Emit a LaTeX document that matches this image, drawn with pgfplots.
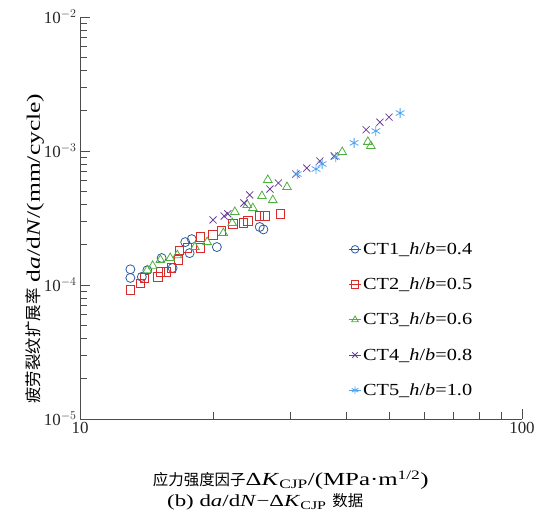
\documentclass[border=0pt]{standalone}
\usepackage{fontspec}
\setmainfont{Liberation Serif}
\newfontfamily\wide{Liberation Serif}[FakeStretch=1.2]
\newfontfamily\wider{Liberation Serif}[FakeStretch=1.35]
\newfontfamily\cjk{Noto Sans CJK SC}
\usepackage{pgfplots}
\pgfplotsset{compat=1.18}
\definecolor{c1}{HTML}{2B5C9E}
\definecolor{c2}{HTML}{D92B2B}
\definecolor{c3}{HTML}{4FAF3F}
\definecolor{c4}{HTML}{6A3D9A}
\definecolor{c5}{HTML}{4FA3EF}
\begin{document}
\begin{tikzpicture}
\path[use as bounding box] (0,0) rectangle (537bp,515bp);
\begin{axis}[
  at={(80bp,96bp)}, anchor=south west,
  scale only axis, width=442bp, height=402bp,
  xmode=log, ymode=log,
  xmin=10, xmax=100, ymin=1e-5, ymax=1e-2,
  axis x line*=bottom, axis y line*=left,
  axis line style={-, line width=0.8pt, black!70},
  tick align=inside,
  major tick length=10bp, minor tick length=7bp,
  every tick/.style={black!70, line width=0.8pt},
  xtick={10,100}, xticklabels={10,100},
  minor xtick={20,30,40,50,60,70,80,90},
  ytick={1e-5,1e-4,1e-3,1e-2},
  yticklabels={10$^{-5}$,10$^{-4}$,10$^{-3}$,10$^{-2}$},
  minor ytick={2e-5,3e-5,4e-5,5e-5,6e-5,7e-5,8e-5,9e-5,
               2e-4,3e-4,4e-4,5e-4,6e-4,7e-4,8e-4,9e-4,
               2e-3,3e-3,4e-3,5e-3,6e-3,7e-3,8e-3,9e-3},
  tick label style={font=\fontsize{17}{17}\selectfont, black!85},
  xlabel={{\cjk\fontsize{15.5}{15.5}\selectfont 应力强度因子}Δ\textit{K}\textsubscript{CJP}/(MPa·m\textsuperscript{1/2})},
  ylabel={{\cjk\fontsize{16.5}{16.5}\selectfont 疲劳裂纹扩展率} d\textit{a}/d\textit{N}/(mm/cycle)},
  xlabel style={at={(rel axis cs:0.477,-0.152)}, anchor=center, font=\wider\fontsize{18.5}{18.5}\selectfont},
  ylabel style={at={(rel axis cs:-0.102,0.424)}, anchor=center, font=\wider\fontsize{19}{19}\selectfont},
  legend style={draw=none, fill=none, at={(rel axis cs:0.600,0.449)}, anchor=north west,
    font=\wide\fontsize{17}{17}\selectfont, row sep=18bp},
  legend cell align=left,
  legend image code/.code={\path (0cm,0cm) -- (0.42cm,0cm); \draw[#1, mark size=3.8bp] plot coordinates {(0.22cm,0cm)};},
  clip=false,
]
\addplot[only marks, mark=o, c1, mark size=4.5bp, line width=0.8pt] coordinates {
(13.0,1.31e-4) (13.0,1.13e-4) (13.8,1.15e-4) (14.2,1.29e-4) (15.3,1.59e-4) (16.2,1.34e-4)
(17.3,2.09e-4) (17.9,2.20e-4) (17.7,1.73e-4) (20.4,1.92e-4) (25.5,2.71e-4) (26.0,2.60e-4)
};
\addlegendentry{CT1\_\textit{h}/\textit{b}=0.4}
\addplot[only marks, mark=square, c2, mark size=4.2bp, line width=0.8pt] coordinates {
(13.0,9.2e-5) (13.7,1.03e-4) (14.0,1.13e-4) (15.0,1.15e-4) (15.2,1.25e-4) (15.7,1.25e-4)
(16.1,1.34e-4) (16.7,1.54e-4) (16.8,1.82e-4) (17.5,1.89e-4) (18.7,2.28e-4) (18.7,1.89e-4)
(20.0,2.36e-4) (20.9,2.53e-4) (22.2,2.85e-4) (23.4,2.90e-4) (24.0,3.00e-4) (25.5,3.27e-4)
(26.2,3.27e-4) (28.4,3.39e-4)
};
\addlegendentry{CT2\_\textit{h}/\textit{b}=0.5}
\addplot[only marks, mark=triangle, c3, mark size=5bp, line width=0.8pt] coordinates {
(14.2,1.29e-4) (14.6,1.39e-4) (15.2,1.54e-4) (16.0,1.59e-4) (16.6,1.67e-4) (18.2,1.92e-4)
(19.4,2.09e-4) (21.1,2.44e-4) (22.1,2.90e-4) (22.4,3.51e-4) (23.9,3.96e-4) (24.6,3.75e-4)
(25.8,4.61e-4) (26.6,6.08e-4) (27.3,4.30e-4) (29.4,5.38e-4) (39.2,9.83e-4) (44.8,1.17e-3)
(45.5,1.09e-3)
};
\addlegendentry{CT3\_\textit{h}/\textit{b}=0.6}
\addplot[only marks, mark=x, c4, mark size=5bp, line width=0.8pt] coordinates {
(20.0,3.06e-4) (21.2,3.27e-4) (21.6,3.40e-4) (23.5,4.09e-4) (24.2,4.70e-4) (26.9,5.20e-4)
(28.1,5.77e-4) (30.8,6.73e-4) (32.6,7.46e-4) (34.9,8.42e-4) (37.6,9.18e-4) (44.4,1.44e-3)
(47.7,1.64e-3) (50.0,1.79e-3)
};
\addlegendentry{CT4\_\textit{h}/\textit{b}=0.8}
\addplot[only marks, mark=asterisk, c5, mark size=5bp, line width=0.8pt] coordinates {
(31.0,6.73e-4) (34.2,7.34e-4) (35.3,8.00e-4) (37.9,9.02e-4) (41.7,1.15e-3) (46.7,1.41e-3)
(53.0,1.92e-3)
};
\addlegendentry{CT5\_\textit{h}/\textit{b}=1.0}
\node[font=\wider\fontsize{17}{17}\selectfont, inner sep=1bp] at (rel axis cs:0.419,-0.207)
  {(b) d\textit{a}/d\textit{N}−Δ\textit{K}\textsubscript{CJP} {\cjk\fontsize{15.5}{15.5}\selectfont 数据}};
\end{axis}
\end{tikzpicture}
\end{document}
